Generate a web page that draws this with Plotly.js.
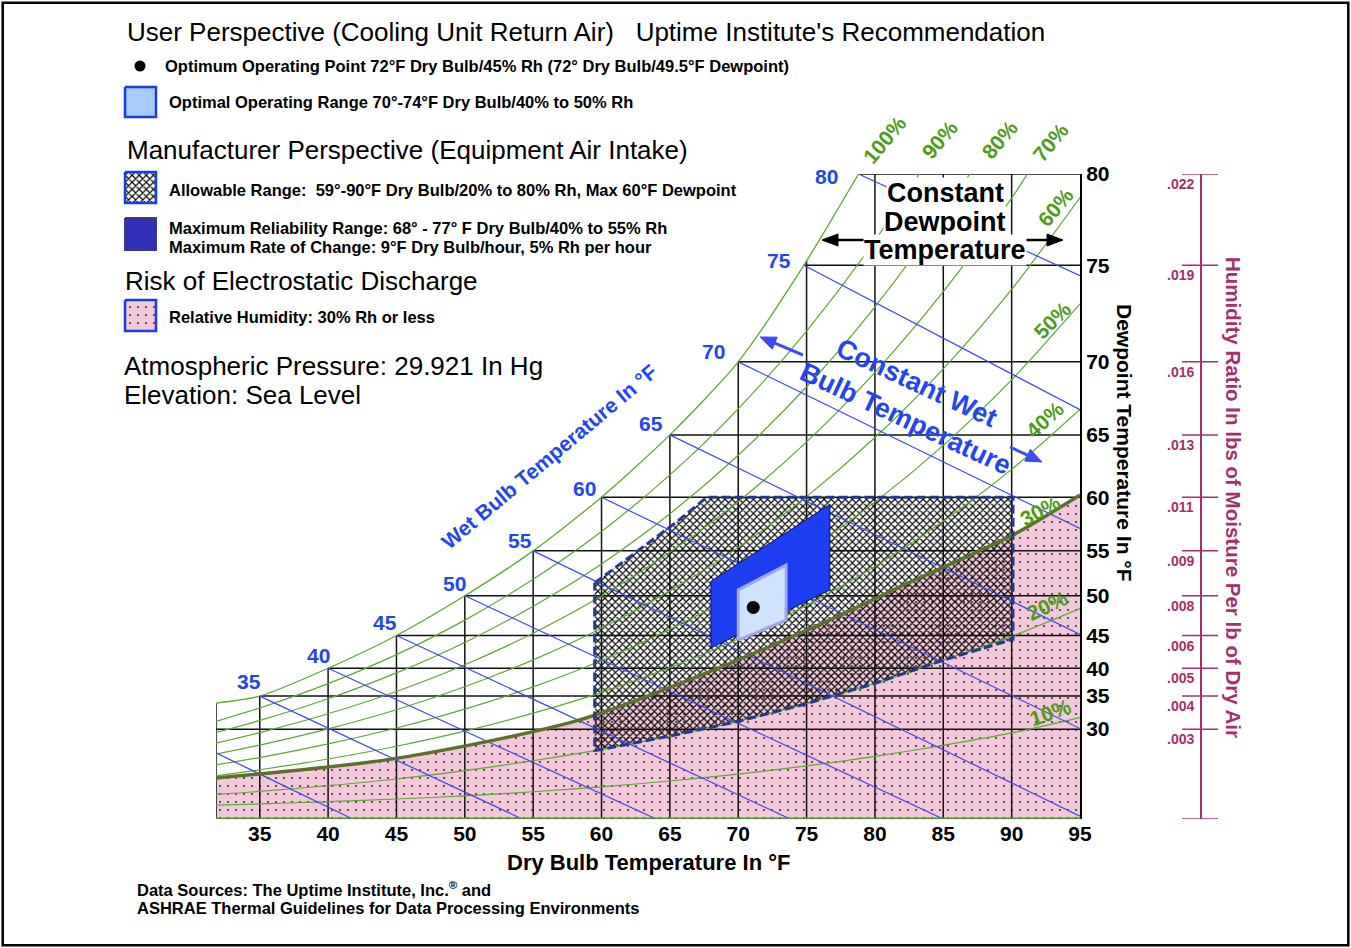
<!DOCTYPE html>
<html>
<head>
<meta charset="utf-8">
<script src="https://cdn.plot.ly/plotly-3.0.1.min.js"></script>
<style>html,body{margin:0;padding:0;background:#fff;}</style>
</head>
<body>
<div id="chart" style="width:1351px;height:948px;"></div>
<script>
// ================= DATA =================
const dryBulbTicks = [35, 40, 45, 50, 55, 60, 65, 70, 75, 80, 85, 90, 95];
const gridDryBulb = [35, 40, 45, 50, 55, 60, 65, 70, 75, 80, 85, 90];
const dewpoints = [30, 35, 40, 45, 50, 55, 60, 65, 70, 75, 80];
const dewpointW = [0.00310, 0.00424, 0.00520, 0.00633, 0.00770, 0.00925, 0.01110, 0.01325, 0.01577, 0.01910, 0.02225];
const dewpointSatT = [31.8, 35, 40, 45, 50, 55, 60, 65, 70, 74.8, 78.8];
const humidityRatioLabels = ['.003', '.004', '.005', '.006', '.008', '.009', '.011', '.013', '.016', '.019', '.022'];

// saturation (100% Rh) curve
const satT = [31.8, 35, 40, 45, 50, 55, 60, 65, 70, 74.8, 78.8];
const satW = [0.00400, 0.00424, 0.00520, 0.00633, 0.00770, 0.00925, 0.01110, 0.01325, 0.01577, 0.01910, 0.02225];

// relative humidity curves
const rhT  = [31.8, 35, 40, 45, 50, 55, 60, 65, 70, 75, 80, 85, 90, 95];
const rh90 = [0.00337, 0.00383, 0.00467, 0.00567, 0.00686, 0.00827, 0.00992, 0.01187, 0.01415, 0.01683, 0.01995, 0.02359, 0.02782, 0.03272];
const rh80 = [0.00299, 0.00340, 0.00415, 0.00504, 0.00609, 0.00734, 0.00880, 0.01053, 0.01255, 0.01491, 0.01767, 0.02088, 0.02460, 0.02892];
const rh70 = [0.00262, 0.00298, 0.00363, 0.00440, 0.00532, 0.00641, 0.00769, 0.00920, 0.01095, 0.01301, 0.01541, 0.01819, 0.02142, 0.02516];
const rh60 = [0.00224, 0.00255, 0.00311, 0.00377, 0.00456, 0.00549, 0.00658, 0.00787, 0.00937, 0.01112, 0.01316, 0.01553, 0.01827, 0.02144];
const rh50 = [0.00187, 0.00212, 0.00259, 0.00314, 0.00379, 0.00456, 0.00547, 0.00654, 0.00779, 0.00924, 0.01093, 0.01289, 0.01515, 0.01777];
const rh40 = [0.00149, 0.00170, 0.00207, 0.00251, 0.00303, 0.00365, 0.00437, 0.00522, 0.00621, 0.00737, 0.00871, 0.01027, 0.01206, 0.01413];
const rh20 = [0.00085, 0.00095, 0.00115, 0.00138, 0.00167, 0.00201, 0.00240, 0.00286, 0.00337, 0.00398, 0.00468, 0.00548, 0.00630, 0.00726];
const rh10 = [0.00048, 0.00052, 0.00060, 0.00069, 0.00080, 0.00094, 0.00111, 0.00131, 0.00155, 0.00183, 0.00216, 0.00254, 0.00297, 0.00350];
// 30% Rh boundary (risk of electrostatic discharge)
const rh30T = [31.8, 45.1, 58.4, 68.2, 76.7, 82.8, 90.1, 95];
const rh30W = [0.00141, 0.00210, 0.00342, 0.00514, 0.00687, 0.00822, 0.00980, 0.01118];
const rhLabels = ['100%', '90%', '80%', '70%', '60%', '50%', '40%', '30%', '20%', '10%'];

// wet bulb lines
const wetBulbLabels = ['', '35', '40', '45', '50', '55', '60', '65', '70', '75', '80'];
const wbStartT = [31.8, 35, 40, 45, 50, 55, 60, 65, 70, 74.8, 78.8];
const wbStartW = [0.00228, 0.00424, 0.00520, 0.00633, 0.00770, 0.00925, 0.01110, 0.01325, 0.01577, 0.01910, 0.02225];
const wbEndT = [41.8, 54.2, 64.0, 73.8, 85.0, 95, 95, 95, 95, 95, 95];
const wbEndW = [0, 0, 0, 0, 0, 0.0001, 0.00312, 0.00637, 0.01002, 0.01412, 0.01874];

// allowable range (59-90F DB, 20-80% Rh, max 60F dewpoint)
const allowableT = [59.5, 61.5, 63.5, 65.5, 67.7, 90.1, 90.1, 85, 80, 75, 70, 65, 60, 59.5, 59.5];
const allowableW = [0.00814, 0.00885, 0.00955, 0.01025, 0.01110, 0.01110, 0.00620, 0.00548, 0.00468, 0.00398, 0.00337, 0.00286, 0.00240, 0.00236, 0.00814];
// maximum reliability range (68-77F DB, 40-55% Rh)
const reliabilityT = [68, 76.7, 76.7, 68, 68];
const reliabilityW = [0.00590, 0.00790, 0.01085, 0.00820, 0.00590];
// optimal operating range (70-74F DB, 40-50% Rh)
const optimalT = [70, 73.5, 73.5, 70, 70];
const optimalW = [0.00617, 0.00686, 0.00876, 0.00790, 0.00617];
// optimum operating point
const optimumT = [71.1];
const optimumW = [0.00730];

// ================= LAYOUT HELPERS =================
const W = 1351, H = 948;
const F = 'Liberation Sans, Arial, Helvetica, sans-serif';
const PX = x => x / W;
const PY = y => 1 - y / H;
const X0 = 31.8, X1 = 95, TOP = 0.02225;
const GREEN = '#5aa832', GREEN_T = '#4c9c18', BLUE = '#3a48ee', BLUE_T = '#1f46f2', MAROON = '#a3306c';
const PINK = '#f2c9da';
const PINK_PATTERN = {shape: '.', fgcolor: '#5a2540', bgcolor: PINK, size: 8, solidity: 0.06};
const HATCH_PATTERN = {shape: 'x', fgcolor: '#000', bgcolor: 'rgba(0,0,0,0)', size: 5, solidity: 0.4};

function satAt(t) {
  if (t >= satT[satT.length - 1]) return TOP;
  for (let i = 0; i < satT.length - 1; i++) {
    if (t >= satT[i] && t <= satT[i + 1]) return satW[i] + (satW[i + 1] - satW[i]) * (t - satT[i]) / (satT[i + 1] - satT[i]);
  }
  return satW[0];
}

const traces = [];
const base = {type: 'scatter', mode: 'lines', hoverinfo: 'skip', showlegend: false};

// pink region: Rh 30% or less
traces.push(Object.assign({}, base, {
  x: rh30T, y: rh30W, fill: 'tozeroy', fillcolor: PINK, fillpattern: PINK_PATTERN,
  line: {width: 0, shape: 'spline', smoothing: 0.8}
}));
// allowable range hatch
traces.push(Object.assign({}, base, {
  x: allowableT, y: allowableW, fill: 'toself', fillcolor: 'rgba(0,0,0,0)', fillpattern: HATCH_PATTERN, line: {width: 0}
}));

// grid: constant dewpoint (horizontal) and constant dry bulb (vertical)
const gx = [], gy = [];
dewpoints.forEach((d, i) => { gx.push(dewpointSatT[i], X1, null); gy.push(dewpointW[i], dewpointW[i], null); });
gridDryBulb.forEach(t => { gx.push(t, t, null); gy.push(0, satAt(t), null); });
gx.push(X0, X0, null); gy.push(0, satW[0], null);
traces.push(Object.assign({}, base, {x: gx, y: gy, line: {color: '#111', width: 1.5}, connectgaps: false}));

// relative humidity curves
traces.push(Object.assign({}, base, {x: satT, y: satW, line: {color: GREEN, width: 1.3, shape: 'spline', smoothing: 0.7}}));
[rh90, rh80, rh70, rh60, rh50, rh40, rh20, rh10].forEach(arr => {
  traces.push(Object.assign({}, base, {x: rhT, y: arr, line: {color: GREEN, width: 1.2, shape: 'spline', smoothing: 0.8}}));
});

// wet bulb lines
const wx = [], wy = [];
wbStartT.forEach((t, i) => { wx.push(t, wbEndT[i], null); wy.push(wbStartW[i], wbEndW[i], null); });
traces.push(Object.assign({}, base, {x: wx, y: wy, line: {color: BLUE, width: 1.2}, connectgaps: false}));

// 30% boundary line
traces.push(Object.assign({}, base, {x: rh30T, y: rh30W, line: {color: '#4f7a22', width: 3.5, shape: 'spline', smoothing: 0.8}}));
traces.push(Object.assign({}, base, {x: rh30T, y: rh30W, line: {color: '#a8405e', width: 1.4, dash: '4px,6px', shape: 'spline', smoothing: 0.8}}));

// allowable range border
traces.push(Object.assign({}, base, {x: allowableT, y: allowableW, line: {color: '#243a8c', width: 3, dash: '9px,4px'}}));
// maximum reliability
traces.push(Object.assign({}, base, {x: reliabilityT, y: reliabilityW, fill: 'toself', fillcolor: '#1c3ef0', line: {color: '#121270', width: 1}}));
// optimal range
traces.push(Object.assign({}, base, {x: optimalT, y: optimalW, fill: 'toself', fillcolor: '#cfe3fb', line: {color: '#a2a6ec', width: 3}}));
// optimum point
traces.push({type: 'scatter', mode: 'markers', x: optimumT, y: optimumW, marker: {color: '#000', size: 13}, hoverinfo: 'skip', showlegend: false});

// ---- legend swatches (own small axes, pixel units) ----
const L2 = {type: 'scatter', xaxis: 'x2', yaxis: 'y2', hoverinfo: 'skip', showlegend: false};
function box(y0, y1) { return {x: [125, 156, 156, 125, 125], y: [y0, y0, y1, y1, y0]}; }
traces.push(Object.assign({}, L2, {mode: 'markers', x: [140], y: [66], marker: {color: '#000', size: 11}}));
traces.push(Object.assign({}, L2, box(87, 117), {mode: 'lines', fill: 'toself', fillcolor: '#a6cdf7', line: {color: '#1a3be8', width: 2.5}}));
traces.push(Object.assign({}, L2, box(172, 203), {mode: 'lines', fill: 'toself', fillcolor: '#fff',
  fillpattern: {shape: 'x', fgcolor: '#000', bgcolor: '#fff', size: 5, solidity: 0.4}, line: {color: '#1a3be8', width: 2.5}}));
traces.push(Object.assign({}, L2, box(218, 250), {mode: 'lines', fill: 'toself', fillcolor: '#2f2fb8', line: {color: '#3b3b6e', width: 2}}));
traces.push(Object.assign({}, L2, box(300, 331), {mode: 'lines', fill: 'toself', fillcolor: PINK,
  fillpattern: PINK_PATTERN, line: {color: '#1a3be8', width: 2.5}}));

// ================= ANNOTATIONS =================
const ann = [];
function txt(x, y, text, size, extra) {
  return Object.assign({xref: 'paper', yref: 'paper', x: PX(x), y: PY(y), text: text, showarrow: false,
    xanchor: 'left', yanchor: 'middle', font: {family: F, size: size, color: '#000'}}, extra || {});
}
ann.push(txt(125, 32, "User Perspective (Cooling Unit Return Air)\u00A0\u00A0\u00A0Uptime Institute's Recommendation", 26));
ann.push(txt(163, 66, '<b>Optimum Operating Point 72°F Dry Bulb/45% Rh (72° Dry Bulb/49.5°F Dewpoint)</b>', 16.5));
ann.push(txt(167, 102, '<b>Optimal Operating Range 70°-74°F Dry Bulb/40% to 50% Rh</b>', 16.5));
ann.push(txt(125, 150, 'Manufacturer Perspective (Equipment Air Intake)', 26));
ann.push(txt(167, 190, '<b>Allowable Range:\u00A0 59°-90°F Dry Bulb/20% to 80% Rh, Max 60°F Dewpoint</b>', 16.5));
ann.push(txt(167, 228, '<b>Maximum Reliability Range: 68° - 77° F Dry Bulb/40% to 55% Rh</b>', 16.5));
ann.push(txt(167, 247, '<b>Maximum Rate of Change: 9°F Dry Bulb/hour, 5% Rh per hour</b>', 16.5));
ann.push(txt(123, 281, 'Risk of Electrostatic Discharge', 26));
ann.push(txt(167, 317, '<b>Relative Humidity: 30% Rh or less</b>', 16.5));
ann.push(txt(122, 366, 'Atmospheric Pressure: 29.921 In Hg', 26));
ann.push(txt(122, 395, 'Elevation: Sea Level', 26));
ann.push(txt(135, 889, '<b>Data Sources: The Uptime Institute, Inc.<sup>®</sup> and</b>', 16.5));
ann.push(txt(135, 908, '<b>ASHRAE Thermal Guidelines for Data Processing Environments</b>', 16.5));

// axis titles
ann.push(txt(648, 862, '<b>Dry Bulb Temperature In °F</b>', 22, {xanchor: 'center'}));
ann.push(txt(1125, 443, '<b>Dewpoint Temperature In °F</b>', 21, {xanchor: 'center', textangle: 90}));
ann.push(txt(1234, 497, '<b>Humidity Ratio In lbs of Moisture Per lb of Dry Air</b>', 20.5,
  {xanchor: 'center', textangle: 90, font: {family: F, size: 20.5, color: MAROON}}));

// humidity ratio scale labels
humidityRatioLabels.forEach((lab, i) => {
  ann.push({xref: 'paper', yref: 'y', x: PX(1196), y: dewpointW[i], yshift: -10, text: '<b>' + lab + '</b>',
    showarrow: false, xanchor: 'right', yanchor: 'middle', font: {family: F, size: 14, color: MAROON}});
});

// wet bulb labels on the saturation curve
const wbLabelShift = [[0, 0], [-11, 15], [-10, 13], [-11, 13], [-10, 12], [-13, 10], [-17, 9], [-19, 11], [-25, 10], [-25, 5], [-32, -3]];
wetBulbLabels.forEach((lab, i) => {
  if (!lab) return;
  ann.push({xref: 'x', yref: 'y', x: wbStartT[i], y: wbStartW[i], xshift: wbLabelShift[i][0], yshift: wbLabelShift[i][1],
    text: '<b>' + lab + '</b>', showarrow: false, xanchor: 'center', yanchor: 'middle', font: {family: F, size: 21, color: BLUE_T}});
});

// Rh labels
const rhLabelPos = [[885, 140, -50], [940, 140, -50], [1000, 140, -50], [1050, 142, -50], [1055, 207, -50],
  [1052, 320, -45], [1045, 420, -42], [1040, 510, -28], [1047, 605, -25], [1050, 712, -20]];
rhLabels.forEach((lab, i) => {
  const p = rhLabelPos[i];
  ann.push(txt(p[0], p[1], '<b>' + lab + '</b>', 21, {xanchor: 'center', textangle: p[2], font: {family: F, size: 21, color: GREEN_T}}));
});

// constant dewpoint block
['Constant', 'Dewpoint', 'Temperature'].forEach((w, i) => {
  ann.push(txt(945, 193 + i * 28.5, '<b>' + w + '</b>', 27, {xanchor: 'center', bgcolor: '#fff', borderpad: 0}));
});

// constant wet bulb
ann.push(txt(917, 383, '<b>Constant Wet</b>', 27, {xanchor: 'center', textangle: 25, font: {family: F, size: 27, color: BLUE_T}}));
ann.push(txt(906, 419, '<b>Bulb Temperature</b>', 27, {xanchor: 'center', textangle: 25, font: {family: F, size: 27, color: BLUE_T}}));
ann.push(txt(549, 456, '<b>Wet Bulb Temperature In °F</b>', 21, {xanchor: 'center', textangle: -40, font: {family: F, size: 21, color: BLUE_T}}));

// ================= SHAPES =================
const shapes = [];
shapes.push({type: 'rect', xref: 'paper', yref: 'paper', x0: 0.002, x1: 0.998, y0: 0.003, y1: 0.997, line: {color: '#000', width: 2.5}});
shapes.push({type: 'line', xref: 'x', yref: 'y', x0: X0, x1: X1, y0: 0, y1: 0, line: {color: '#4f9a2a', width: 3}});
shapes.push({type: 'line', xref: 'paper', yref: 'y', x0: PX(1201), x1: PX(1201), y0: 0, y1: TOP, line: {color: MAROON, width: 2}});
dewpointW.concat([0]).forEach(w => {
  shapes.push({type: 'line', xref: 'paper', yref: 'y', x0: PX(1182), x1: PX(1218), y0: w, y1: w, line: {color: MAROON, width: 1.5}});
});

// arrows drawn as a line plus a filled head
function arrowShapes(hx, hy, tx, ty, color, width, len, half) {
  const dx = hx - tx, dy = hy - ty, d = Math.hypot(dx, dy), ux = dx / d, uy = dy / d;
  const bx = hx - ux * len, by = hy - uy * len;
  const c1x = bx - uy * half, c1y = by + ux * half, c2x = bx + uy * half, c2y = by - ux * half;
  return [
    {type: 'line', xref: 'paper', yref: 'paper', x0: PX(tx), y0: PY(ty), x1: PX(bx), y1: PY(by), line: {color: color, width: width}},
    {type: 'path', xref: 'paper', yref: 'paper', fillcolor: color, line: {color: color, width: 1},
      path: 'M ' + PX(hx) + ',' + PY(hy) + ' L ' + PX(c1x) + ',' + PY(c1y) + ' L ' + PX(c2x) + ',' + PY(c2y) + ' Z'}
  ];
}
shapes.push(...arrowShapes(822, 240, 868, 240, '#000', 2.5, 16, 6));
shapes.push(...arrowShapes(1063, 240, 1022, 240, '#000', 2.5, 16, 6));
shapes.push(...arrowShapes(760, 337, 803, 355, '#3b4df2', 3, 16, 6.5));
shapes.push(...arrowShapes(1042, 462, 1010, 447, '#3b4df2', 3, 16, 6.5));

const layout = {
  width: W, height: H, margin: {l: 0, r: 0, t: 0, b: 0},
  paper_bgcolor: '#fff', plot_bgcolor: 'rgba(0,0,0,0)', showlegend: false, hovermode: false,
  xaxis: {domain: [PX(216), PX(1080)], range: [X0, X1], tickvals: dryBulbTicks,
    ticktext: dryBulbTicks.map(v => '<b>' + v + '</b>'), tickfont: {family: F, size: 21, color: '#000'},
    showgrid: false, zeroline: false, showline: false, ticks: '', automargin: false, fixedrange: true},
  yaxis: {domain: [PY(819), PY(174)], range: [0, TOP], side: 'right', tickvals: dewpointW,
    ticktext: dewpoints.map(v => '<b>' + v + '</b>'), tickfont: {family: F, size: 21, color: '#000'},
    showline: true, linecolor: '#000', linewidth: 2, showgrid: false, zeroline: false, ticks: '', automargin: false, fixedrange: true},
  xaxis2: {domain: [PX(118), PX(165)], range: [118, 165], visible: false, anchor: 'y2', fixedrange: true},
  yaxis2: {domain: [PY(340), PY(55)], range: [340, 55], visible: false, anchor: 'x2', fixedrange: true},
  annotations: ann, shapes: shapes
};

Plotly.newPlot('chart', traces, layout, {displayModeBar: false, staticPlot: true});
</script>
</body>
</html>
